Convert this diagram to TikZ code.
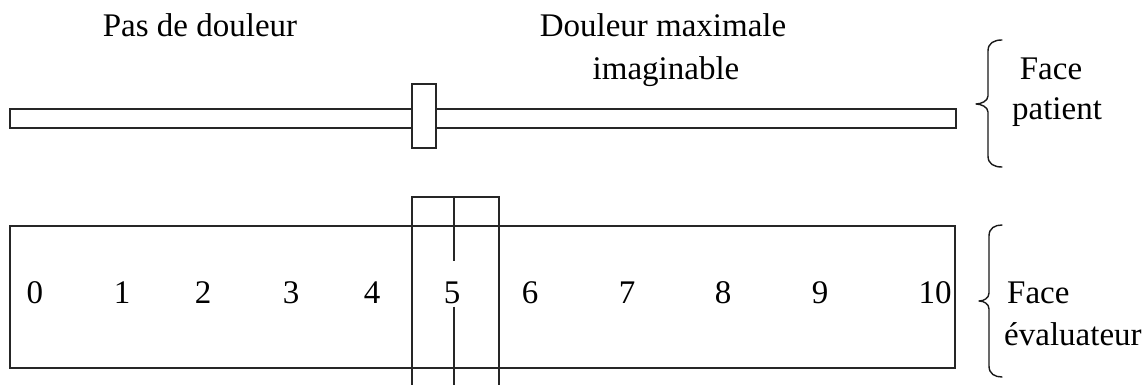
\documentclass[tikz,border=0pt]{standalone}
\usepackage{fontspec}
\setmainfont{Liberation Serif}
\begin{document}
\begin{tikzpicture}[x=1pt,y=-1pt,
  frame/.style={draw=black!85, line width=1.6pt},
  box/.style={frame, rectangle, inner sep=0pt, outer sep=0pt, anchor=north west},
  lbl/.style={font=\fontsize{33}{39}\selectfont, inner sep=0pt, anchor=base},
  bracestroke/.style={draw=black!90, line width=1.4pt, line cap=round, line join=round}]
\useasboundingbox (0,0) rectangle (1148,385);

% patient side: slider bar with its cursor
\node[box, minimum width=946pt, minimum height=19pt] (bar) at (10,109) {};
\node[box, fill=white, minimum width=24pt, minimum height=64pt] (cursor) at (412,84) {};

% evaluator side: graduated scale
\node[box, minimum width=945pt, minimum height=142pt] (scale) at (10,226) {};
\foreach \n/\x in {0/35,1/122,2/203,3/291,4/372,5/452,6/530,7/627,8/723,9/820,10/935}
  \node[lbl] (d\n) at (\x,303) {\n};

% reading window over the scale
\coordinate (wl) at (412,400);
\coordinate (wr) at (499,400);
\draw[frame] (wl) -- (412,197) -- (499,197) -- (wr);
\coordinate (ctop) at (454,197);
\coordinate (cbot) at (454,400);
\draw[frame] (ctop) -- ([yshift=20pt]ctop |- d5.north);
\draw[frame] ([yshift=-3pt]cbot |- d5.south) -- (cbot);

% end labels
\node[lbl] (none) at (200,37) {Pas de douleur};
\node[lbl] (max1) at (663,37) {Douleur maximale};
\node[lbl] (max2) at (666,80) {imaginable};

% curly brace: #1 = x of the hooks, #2 = x of the spine, #3 = x of the tip,
% #4 = top y, #5 = middle y, #6 = bottom y
\newcommand\sidebrace[6]{%
  \draw[bracestroke] (#1,#4) .. controls (#2+6,#4) and (#2,#4+3) .. (#2,#4+11)
    -- (#2,#5-8) .. controls (#2,#5-3) and (#3+5,#5) .. (#3,#5)
    .. controls (#3+5,#5) and (#2,#5+3) .. (#2,#5+8)
    -- (#2,#6-11) .. controls (#2,#6-3) and (#2+6,#6) .. (#1,#6);}

\sidebrace{1002}{988}{976}{40}{104}{167}
\node[lbl] (fp1) at (1051,80) {Face};
\node[lbl] (fp2) at (1057,120) {patient};

\sidebrace{1002}{989}{979}{225}{301}{377}
\node[lbl, anchor=base west] (fe1) at (1007,303) {Face};
\node[lbl, anchor=base west] (fe2) at (1004,345) {évaluateur};
\end{tikzpicture}
\end{document}
